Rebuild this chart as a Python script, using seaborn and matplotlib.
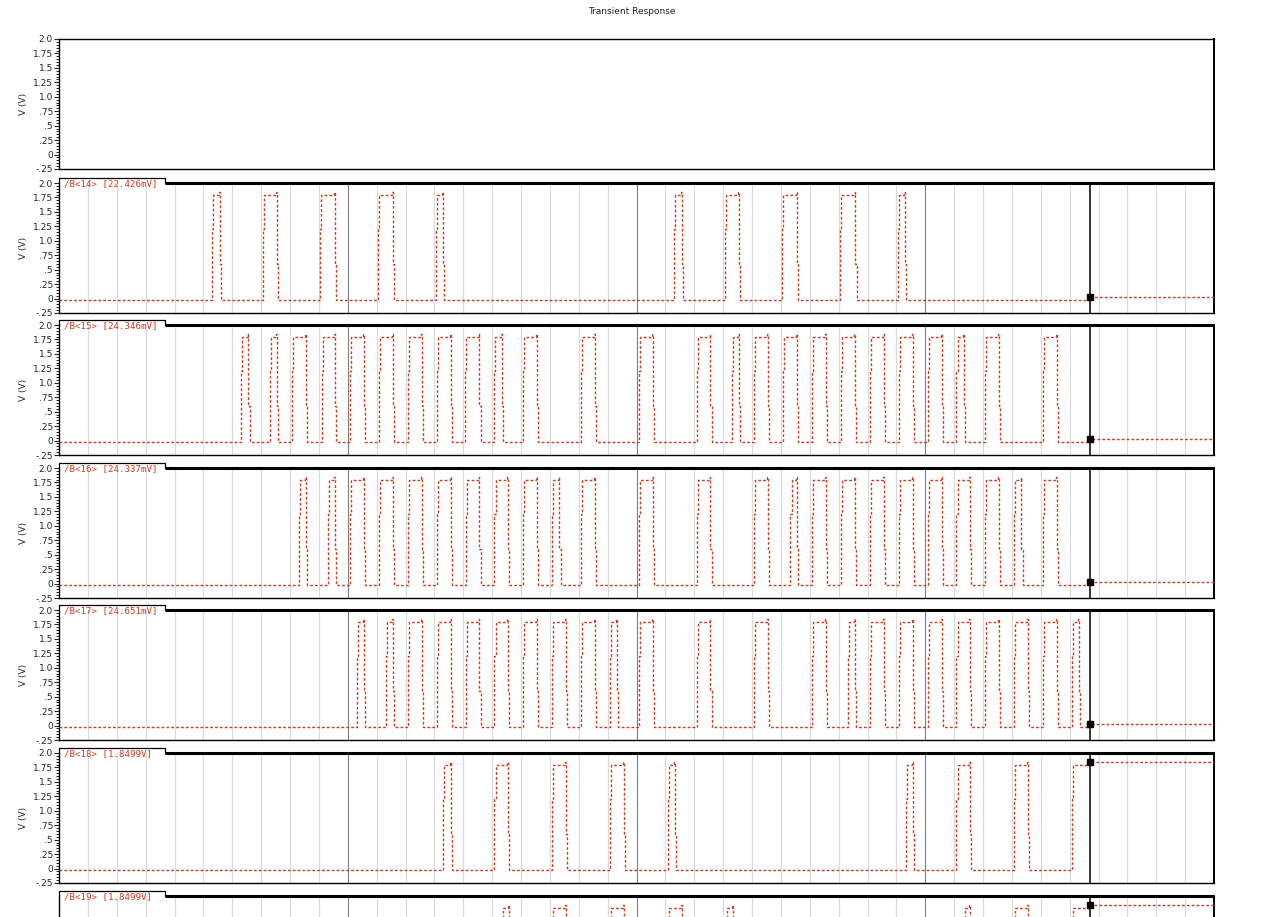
import numpy as np
import pandas as pd
import matplotlib
matplotlib.use("Agg")
import matplotlib.pyplot as plt
from matplotlib.ticker import MultipleLocator
import seaborn as sns

# signals shown in the stacked panels (first panel is empty)
channels = ["/B<14>", "/B<15>", "/B<16>", "/B<17>", "/B<18>", "/B<19>"]
cursor_readouts = ["22.426mV", "24.346mV", "24.337mV", "24.651mV", "1.8499V", "1.8499V"]
final_values = [0.022426, 0.024346, 0.024337, 0.024651, 1.8499, 1.8499]

# pulse (rise, fall) times, x axis runs 0..40
pulses_b14 = [(5.30, 5.56), (7.05, 7.56), (9.05, 9.56), (11.05, 11.56), (13.05, 13.30),
              (21.30, 21.56), (23.05, 23.56), (25.05, 25.56), (27.05, 27.58), (29.05, 29.30)]
pulses_b15 = [(6.31, 6.56), (7.31, 7.56), (8.08, 8.56), (9.10, 9.56), (10.08, 10.56),
              (11.08, 11.56), (12.08, 12.56), (13.08, 13.56), (14.05, 14.56), (15.05, 15.33),
              (16.08, 16.56), (18.08, 18.56), (20.08, 20.56), (22.08, 22.56), (23.30, 23.56),
              (24.08, 24.56), (25.08, 25.56), (26.08, 26.56), (27.08, 27.56), (28.08, 28.56),
              (29.08, 29.56), (30.08, 30.59), (31.08, 31.33), (32.08, 32.56), (34.08, 34.56)]
pulses_b16 = [(8.31, 8.56), (9.31, 9.56), (10.08, 10.56), (11.08, 11.56), (12.08, 12.56),
              (13.08, 13.56), (14.08, 14.56), (15.08, 15.56), (16.08, 16.56), (17.08, 17.33),
              (18.08, 18.56), (20.08, 20.56), (22.08, 22.56), (24.08, 24.56), (25.33, 25.56),
              (26.08, 26.56), (27.08, 27.56), (28.08, 28.56), (29.08, 29.56), (30.08, 30.59),
              (31.08, 31.56), (32.08, 32.56), (33.08, 33.33), (34.08, 34.56)]
pulses_b17 = [(10.31, 10.56), (11.31, 11.56), (12.08, 12.56), (13.08, 13.56), (14.08, 14.56),
              (15.08, 15.56), (16.08, 16.56), (17.08, 17.56), (18.08, 18.56), (19.08, 19.33),
              (20.08, 20.56), (22.08, 22.56), (24.08, 24.56), (26.08, 26.56), (27.33, 27.56),
              (28.08, 28.56), (29.08, 29.56), (30.08, 30.59), (31.08, 31.56), (32.08, 32.56),
              (33.08, 33.56), (34.08, 34.56), (35.08, 35.33)]
pulses_b18 = [(13.31, 13.56), (15.08, 15.56), (17.08, 17.56), (19.08, 19.56), (21.08, 21.33),
              (29.33, 29.56), (31.08, 31.56), (33.08, 33.56), (35.08, 35.70)]
pulses_b19 = [(15.33, 15.59), (17.08, 17.56), (19.08, 19.56), (21.08, 21.56), (23.08, 23.33),
              (31.33, 31.56), (33.08, 33.56), (35.08, 35.70)]
all_pulses = [pulses_b14, pulses_b15, pulses_b16, pulses_b17, pulses_b18, pulses_b19]

y_ticks = [-0.25, 0, 0.25, 0.5, 0.75, 1.0, 1.25, 1.5, 1.75, 2.0]
y_ticklabels = ["-.25", "0", ".25", ".5", ".75", "1.0", "1.25", "1.5", "1.75", "2.0"]

low, high, overshoot = -0.025, 1.80, 1.84
cursor_t, t_end = 35.7, 40.0
trace_color = "#cc3d1f"


def waveform(pulses, final):
    t, v = [0.0], [low]
    for r, f in pulses:
        t += [r, r + 0.04]
        v += [1.2, high]
        if f >= cursor_t:
            break
        t += [f - 0.03, f, f + 0.04]
        v += [overshoot, 0.6, low]
    t += [cursor_t, t_end]
    v += [final, final]
    return pd.DataFrame({"t": t, "v": v})


sns.set_style("white")
plt.rcParams["font.family"] = ["DejaVu Sans"]

W, H = 1269, 917
fig = plt.figure(figsize=(W / 100, H / 100), dpi=100)

left_px, right_px = 59, 1214
panel_h = 130
panel_tops = [39, 183, 325, 468, 610, 753, 896]
tab_w = 106 / (right_px - left_px)
tab_h = 5 / panel_h


def setup_axis(ax, show_y=True):
    ax.set_xlim(0, t_end)
    ax.set_ylim(-0.25, 2.0)
    ax.set_xticks([])
    for s in ["left", "bottom"]:
        ax.spines[s].set_linewidth(1.0)
        ax.spines[s].set_color("black")
    ax.spines["right"].set_linewidth(1.4)
    ax.spines["right"].set_color("black")
    if not show_y:
        ax.set_yticks([])
        ax.set_ylabel("")
        return
    ax.set_yticks(y_ticks)
    ax.set_yticklabels(y_ticklabels)
    ax.yaxis.set_minor_locator(MultipleLocator(0.05))
    ax.tick_params(axis="y", which="major", length=3.6, width=0.8, pad=0.8,
                   labelsize=6.5, direction="out", left=True)
    ax.tick_params(axis="y", which="minor", length=2.0, width=0.7, direction="out", left=True)


for i, top in enumerate(panel_tops):
    ax = fig.add_axes([left_px / W, (H - top - panel_h) / H,
                       (right_px - left_px) / W, panel_h / H])
    show_y = i < len(panel_tops) - 1
    setup_axis(ax, show_y)
    if i == 0:
        ax.spines["top"].set_linewidth(1.0)
        ax.spines["top"].set_color("black")
        ax.set_ylabel("V (V)", fontsize=6.5)
        ax.yaxis.set_label_coords(-0.027, 0.5)
        continue

    k = i - 1
    for x in range(1, 40):
        c = "#7f7f7f" if x % 10 == 0 else "#dadada"
        ax.axvline(x, color=c, lw=0.8, zorder=0)
    ax.axvline(cursor_t, color="black", lw=1.1, zorder=1)

    df = waveform(all_pulses[k], final_values[k])
    sns.lineplot(data=df, x="t", y="v", ax=ax, color=trace_color, lw=1.0,
                 linestyle=(0, (2, 1.5)), drawstyle="steps-post",
                 estimator=None, sort=False, zorder=3)
    ax.plot([cursor_t], [final_values[k]], marker="s", ms=4.2, color="black",
            zorder=4, clip_on=False)
    ax.set_xlabel("")
    if show_y:
        ax.set_ylabel("V (V)", fontsize=6.5)
        ax.yaxis.set_label_coords(-0.027, 0.5)
    else:
        ax.set_ylabel("")

    # tab with signal name, and thick top border
    ax.spines["top"].set_visible(False)
    ax.plot([tab_w, 1], [1, 1], transform=ax.transAxes, color="black", lw=2.2,
            clip_on=False, solid_capstyle="butt", zorder=5)
    ax.plot([0, 0, tab_w, tab_w], [1, 1 + tab_h, 1 + tab_h, 1], transform=ax.transAxes,
            color="black", lw=0.9, clip_on=False, zorder=5)
    ax.text(0.004, 1 + tab_h - 0.008, f"{channels[k]} [{cursor_readouts[k]}]",
            transform=ax.transAxes, ha="left", va="top", fontsize=6.6,
            family="DejaVu Sans Mono", color=trace_color, zorder=6)

fig.text(0.498, 1 - 12 / H, "Transient Response", ha="center", va="center", fontsize=6.5)

fig.savefig("out.png", dpi=100)
